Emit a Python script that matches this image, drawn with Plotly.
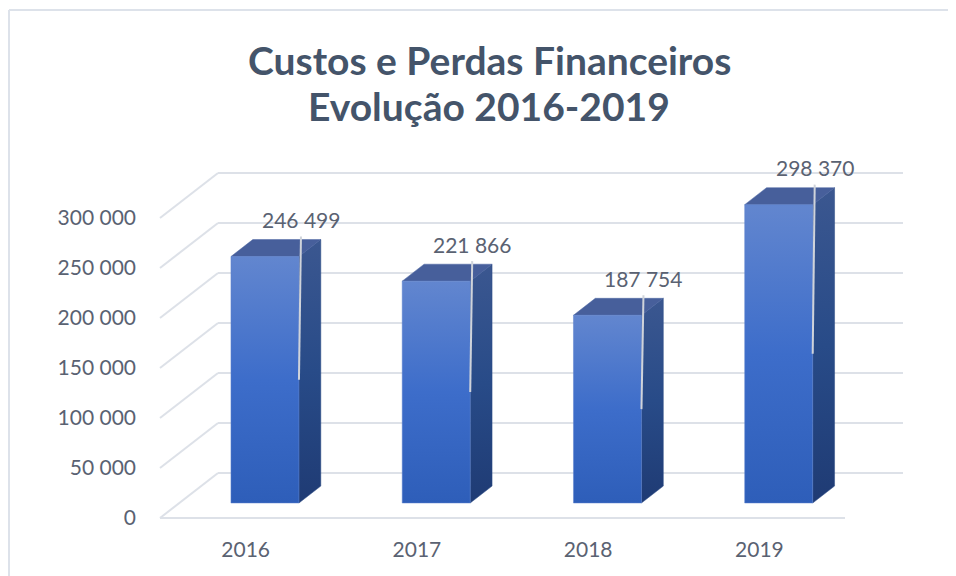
import plotly.graph_objects as go

# ---- data ----
categories = ["2016", "2017", "2018", "2019"]
values = [246499, 221866, 187754, 298370]
label_texts = ["246 499", "221 866", "187 754", "298 370"]
y_tick_values = [0, 50000, 100000, 150000, 200000, 250000, 300000]
y_tick_labels = ["0", "50 000", "100 000", "150 000", "200 000", "250 000", "300 000"]
title_lines = ["Custos e Perdas Financeiros", "Evolução 2016-2019"]

# ---- layout geometry (pixels, in page coordinates; page body has an 8px margin) ----
OFF = 8
W, H = 956, 576
plot_l, plot_r, plot_t, plot_b = 156 - OFF, 912 - OFF, 160 - OFF, 523 - OFF
x0_px, y0_px = 160 - OFF, 518 - OFF   # front-plane origin (category 0, value 0)
px_per_cat = 171.25
px_per_val = 1 / 1000.0
depth_dx_px, depth_dy_px = 58, 45     # full depth offset of the back wall

kx = depth_dx_px / px_per_cat
ky = depth_dy_px / px_per_val
xrange = [(plot_l - x0_px) / px_per_cat, (plot_r - x0_px) / px_per_cat]
yrange = [(y0_px - plot_b) / px_per_val, (y0_px - plot_t) / px_per_val]

d_front, d_back = 1 / 3, 0.71
half_w = 34 / px_per_cat

TEXT = "#5A6272"
TITLE = "#44546A"
GRID = "#DDE1E8"
FONT = "Lato"


def proj(c, v, d):
    return c + d * kx, v + d * ky


def poly(pts):
    xs, ys = [], []
    for c, v, d in pts:
        x, y = proj(c, v, d)
        xs.append(x)
        ys.append(y)
    xs.append(xs[0])
    ys.append(ys[0])
    return xs, ys


fig = go.Figure()
n = len(categories)

# grid: back wall lines + left wall diagonals
for t in y_tick_values:
    xa, ya = proj(0, t, 1)
    xb, yb = proj(n, t, 1)
    fig.add_trace(go.Scatter(x=[xa, xb], y=[ya, yb], mode="lines",
                             line=dict(color=GRID, width=2), hoverinfo="skip"))
    xc, yc = proj(0, t, 0)
    fig.add_trace(go.Scatter(x=[xc, xa], y=[yc, ya], mode="lines",
                             line=dict(color=GRID, width=2), hoverinfo="skip"))
# floor front edge
xa, ya = proj(0, 0, 0)
xb, yb = proj(n, 0, 0)
fig.add_trace(go.Scatter(x=[xa, xb], y=[ya, yb], mode="lines",
                         line=dict(color=GRID, width=2), hoverinfo="skip"))

# 3D bars
for i, v in enumerate(values):
    c = i + 0.5
    L, R = c - half_w, c + half_w
    # side face
    xs, ys = poly([(R, 0, d_front), (R, 0, d_back), (R, v, d_back), (R, v, d_front)])
    fig.add_trace(go.Scatter(x=xs, y=ys, mode="lines", fill="toself",
                             line=dict(width=0.5, color="#2A4A85"),
                             fillgradient=dict(type="vertical",
                                               colorscale=[[0, "#1F3B74"], [0.5, "#284B88"], [1, "#3B5790"]]),
                             hoverinfo="skip"))
    # top face
    xs, ys = poly([(L, v, d_front), (R, v, d_front), (R, v, d_back), (L, v, d_back)])
    fig.add_trace(go.Scatter(x=xs, y=ys, mode="lines", fill="toself",
                             line=dict(width=0.5, color="#4A64A0"),
                             fillcolor="#475F9B", hoverinfo="skip"))
    # front face
    xs, ys = poly([(L, 0, d_front), (R, 0, d_front), (R, v, d_front), (L, v, d_front)])
    fig.add_trace(go.Scatter(x=xs, y=ys, mode="lines", fill="toself",
                             line=dict(width=0.5, color="#5C80CC"),
                             fillgradient=dict(type="vertical",
                                               colorscale=[[0, "#2E5EB9"], [0.5, "#3D6DCA"], [1, "#6286CF"]]),
                             hoverinfo="skip"))

# data labels + leader lines
annotations = []
for i, (v, txt) in enumerate(zip(values, label_texts)):
    c = i + 0.5
    ex, ey = proj(c + half_w, v, d_front)
    lx = ex + 2 / px_per_cat
    ly = ey + 37 / px_per_val
    mx, my = proj(c + half_w, v / 2, d_front)
    fig.add_trace(go.Scatter(x=[lx, mx], y=[ly - 17 / px_per_val, my], mode="lines",
                             line=dict(color="#CFD3DA", width=2), hoverinfo="skip"))
    annotations.append(dict(x=lx, y=ly, xref="x", yref="y", text=txt, showarrow=False,
                            xanchor="center", yanchor="middle",
                            font=dict(family=FONT, size=21, color=TEXT)))


def paper_x(px):
    return (px - OFF - plot_l) / (plot_r - plot_l)


def paper_y(py):
    return (plot_b - (py - OFF)) / (plot_b - plot_t)


# title lines (page pixel positions)
for line, py in zip(title_lines, [60, 106]):
    annotations.append(dict(x=paper_x(489), y=paper_y(py), xref="paper", yref="paper",
                            text="<b>%s</b>" % line, showarrow=False,
                            xanchor="center", yanchor="middle",
                            font=dict(family=FONT, size=39, color=TITLE)))

shapes = [
    dict(type="line", xref="paper", yref="paper", x0=paper_x(9), x1=paper_x(9),
         y0=paper_y(10), y1=paper_y(600), line=dict(color="#DDE2EA", width=2)),
    dict(type="line", xref="paper", yref="paper", x0=paper_x(9), x1=paper_x(980),
         y0=paper_y(10), y1=paper_y(10), line=dict(color="#DDE2EA", width=2)),
]

fig.update_layout(
    width=W, height=H,
    margin=dict(l=plot_l, r=W - plot_r, t=plot_t, b=H - plot_b, autoexpand=False),
    paper_bgcolor="white", plot_bgcolor="white",
    showlegend=False, hovermode=False,
    annotations=annotations, shapes=shapes,
    font=dict(family=FONT, color=TEXT),
)
fig.update_xaxes(range=xrange, tickmode="array", automargin=False,
                 tickvals=[i + 0.5 for i in range(n)], ticktext=categories,
                 showgrid=False, zeroline=False, showline=False, ticks="",
                 tickfont=dict(family=FONT, size=21, color=TEXT), ticklabelstandoff=12)
fig.update_yaxes(range=yrange, tickmode="array", tickvals=y_tick_values, ticktext=y_tick_labels,
                 automargin=False,
                 showgrid=False, zeroline=False, showline=False, ticks="",
                 tickfont=dict(family=FONT, size=21, color=TEXT), ticklabelstandoff=19)

fig.write_html("out.html")
